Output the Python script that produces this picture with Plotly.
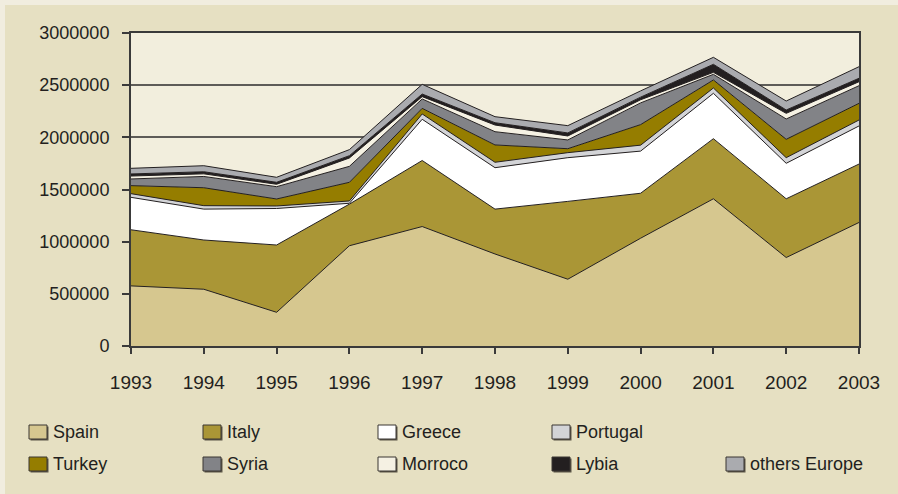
import plotly.graph_objects as go

# ---- data ----
years = [1993, 1994, 1995, 1996, 1997, 1998, 1999, 2000, 2001, 2002, 2003]
spain    = [576000, 544000, 323000, 961000, 1145000, 882000, 640000, 1033000, 1411000, 848000, 1184000]
italy    = [538000, 472000, 645000, 399000, 633000, 430000, 746000, 431000, 576000, 563000, 560000]
greece   = [311000, 296000, 350000, 8000, 395000, 397000, 419000, 404000, 435000, 340000, 365000]
portugal = [35000, 33000, 24000, 22000, 51000, 52000, 48000, 57000, 51000, 54000, 57000]
turkey   = [77000, 172000, 67000, 179000, 54000, 166000, 38000, 197000, 77000, 176000, 160000]
syria    = [64000, 108000, 118000, 153000, 90000, 127000, 84000, 208000, 54000, 195000, 169000]
morroco  = [28000, 25000, 23000, 80000, 22000, 64000, 38000, 30000, 19000, 54000, 38000]
lybia    = [20000, 20000, 19000, 22000, 25000, 22000, 29000, 25000, 77000, 32000, 33000]
others   = [54000, 58000, 48000, 58000, 93000, 58000, 70000, 60000, 67000, 86000, 111000]

series_names = ["Spain", "Italy", "Greece", "Portugal", "Turkey", "Syria",
                "Morroco", "Lybia", "others Europe"]
series_values = [spain, italy, greece, portugal, turkey, syria, morroco, lybia, others]
series_colors = ["#D6C78F", "#AA9636", "#FFFFFF", "#D3D4D7", "#957D00", "#828387",
                 "#F5F1E3", "#231F20", "#AAABAF"]
legend_rows = [["Spain", "Italy", "Greece", "Portugal"],
               ["Turkey", "Syria", "Morroco", "Lybia", "others Europe"]]
y_ticks = [0, 500000, 1000000, 1500000, 2000000, 2500000, 3000000]

# ---- layout constants ----
W, H = 898, 494
ML, MR, MT, MB = 131, 39, 33, 148
PW, PH = W - ML - MR, H - MT - MB
FONT = "Liberation Sans Narrow, Liberation Sans, Arial, sans-serif"
INK = "#231F20"
PAPER = "#E6E0C2"
PLOT = "#F2EEDD"


def px_x(px):
    return (px - ML) / PW


def px_y(py):
    return (H - MB - py) / PH


fig = go.Figure()
for name, vals, col in zip(series_names, series_values, series_colors):
    fig.add_trace(go.Scatter(
        x=years, y=vals, name=name, stackgroup="one", mode="lines",
        line=dict(color=INK, width=1), fillcolor=col, showlegend=False,
        hovertemplate="%{x}: %{y}<extra>" + name + "</extra>",
    ))

# ---- custom legend (swatches + real text) ----
shapes = []
annotations = []
col_x = [29, 203, 378, 552, 726]
row_y = [425, 457]
sw_w, sw_h = 18, 14
color_of = dict(zip(series_names, series_colors))
for r, row in enumerate(legend_rows):
    for c, name in enumerate(row):
        x0, y0 = col_x[c], row_y[r]
        shapes.append(dict(type="rect", xref="paper", yref="paper",
                           x0=px_x(x0 + 1.5), x1=px_x(x0 + sw_w + 1.5),
                           y0=px_y(y0 + 1.5), y1=px_y(y0 + sw_h + 1.5),
                           fillcolor="#5a5546", line=dict(width=0)))
        shapes.append(dict(type="rect", xref="paper", yref="paper",
                           x0=px_x(x0), x1=px_x(x0 + sw_w),
                           y0=px_y(y0), y1=px_y(y0 + sw_h),
                           fillcolor=color_of[name], line=dict(color="#3a3632", width=1)))
        annotations.append(dict(xref="paper", yref="paper", x=px_x(x0 + sw_w + 4),
                                y=px_y(y0 + sw_h / 2 - 0.5), text=name, showarrow=False,
                                xanchor="left", yanchor="middle",
                                font=dict(family=FONT, size=18, color=INK)))

# lighter outer strip on top / left
shapes.append(dict(type="rect", xref="paper", yref="paper", layer="below",
                   x0=px_x(0), x1=px_x(5), y0=px_y(0), y1=px_y(H),
                   fillcolor="#F1EDDF", line=dict(width=0)))
shapes.append(dict(type="rect", xref="paper", yref="paper", layer="below",
                   x0=px_x(0), x1=px_x(W), y0=px_y(0), y1=px_y(5),
                   fillcolor="#F1EDDF", line=dict(width=0)))

fig.update_layout(
    width=W, height=H,
    margin=dict(l=ML, r=MR, t=MT, b=MB, pad=0),
    paper_bgcolor=PAPER, plot_bgcolor=PLOT,
    font=dict(family=FONT, size=18, color=INK),
    showlegend=False,
    shapes=shapes, annotations=annotations,
    xaxis=dict(range=[years[0], years[-1]], tickvals=years, ticktext=[str(y) for y in years],
               ticks="outside", ticklen=6, tickwidth=1.5, tickcolor="#3a3a3a",
               showline=True, linecolor="#3a3a3a", linewidth=2, mirror=True,
               showgrid=False, zeroline=False, ticklabelstandoff=12,
               tickfont=dict(family=FONT, size=19, color=INK)),
    yaxis=dict(range=[0, 3000000], tickvals=y_ticks, tickformat="d",
               ticks="outside", ticklen=7, tickwidth=1.5, tickcolor="#3a3a3a",
               showline=True, linecolor="#3a3a3a", linewidth=2, mirror=True,
               showgrid=True, gridcolor="#5e5c58", gridwidth=1.5, zeroline=False,
               ticklabelstandoff=9,
               tickfont=dict(family=FONT, size=18, color=INK)),
)

fig.write_html("out.html", config={"displayModeBar": False},
               post_script="document.body.style.margin='0px';")
